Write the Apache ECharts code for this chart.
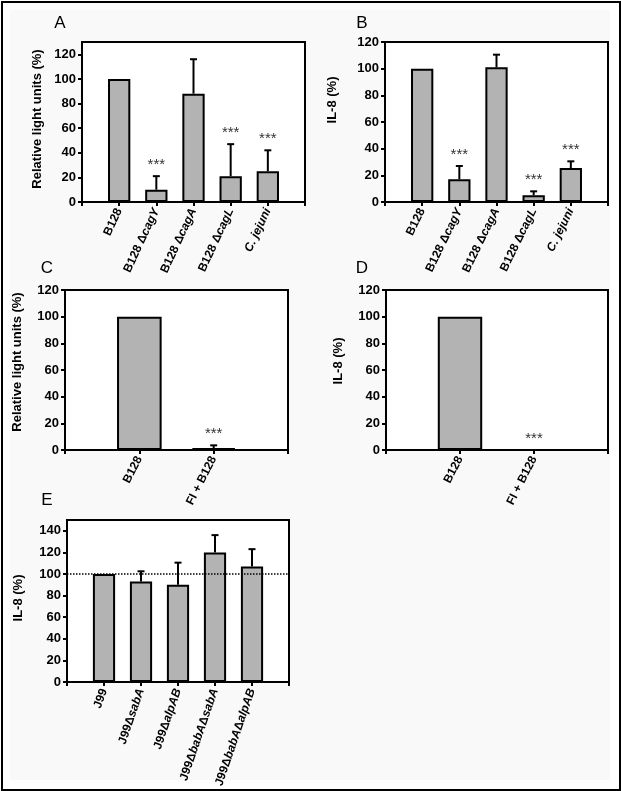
<!DOCTYPE html>
<html><head><meta charset="utf-8">
<script src="https://cdn.jsdelivr.net/npm/echarts@6/dist/echarts.min.js"></script>
<style>html,body{margin:0;padding:0;background:#fff}#c{width:621px;height:791px}</style>
</head><body><div id="c"></div>
<script>
// ---- data ----
const catsA = ['B128', 'B128 ΔcagY', 'B128 ΔcagA', 'B128 ΔcagL', 'C. jejuni'];
const valsA = [100, 10, 88, 21, 25];
const errsA = [0, 11, 28, 26, 17];
const sigA  = ['', '***', '', '***', '***'];
const ticksA = [0, 20, 40, 60, 80, 100, 120];

const catsB = ['B128', 'B128 ΔcagY', 'B128 ΔcagA', 'B128 ΔcagL', 'C. jejuni'];
const valsB = [100, 17, 101, 5, 25.5];
const errsB = [0, 10, 9.5, 3, 5];
const sigB  = ['', '***', '', '***', '***'];
const ticksB = [0, 20, 40, 60, 80, 100, 120];

const catsC = ['B128', 'FI + B128'];
const valsC = [100, 1.5];
const errsC = [0, 2];
const sigC  = ['', '***'];
const ticksC = [0, 20, 40, 60, 80, 100, 120];

const catsD = ['B128', 'FI + B128'];
const valsD = [100, 0];
const errsD = [0, 0];
const sigD  = ['', '***'];
const ticksD = [0, 20, 40, 60, 80, 100, 120];

const catsE = ['J99', 'J99ΔsabA', 'J99ΔalpAB', 'J99ΔbabAΔsabA', 'J99ΔbabAΔalpAB'];
const valsE = [100, 93, 90, 120, 107];
const errsE = [0, 9.5, 20.5, 16, 16];
const sigE  = ['', '', '', '', ''];
const ticksE = [0, 20, 40, 60, 80, 100, 120, 140];
const refLineE = 100;

const yNameRLU = 'Relative light units (%)';
const yNameIL8 = 'IL-8 (%)';

// ---- helpers ----
const FONT = 'Liberation Sans, Arial, Helvetica, sans-serif';
const ITALIC_RE = /(cag[A-Z]|sabA|alpAB|babA|C\. jejuni)/g;
function richLabel(s) {
  if (!s) return '';
  const parts = s.split(ITALIC_RE).filter(p => p !== '');
  return parts.map(p => (p.match(ITALIC_RE) ? '{i|' + p + '}' : '{n|' + p + '}')).join('');
}

const panels = [
  {cats: catsA, vals: valsA, errs: errsA, sig: sigA, ticks: ticksA, max: 130, name: yNameRLU, nameGap: 38, namePad: 6,
   grid: {left: 82, top: 42, width: 223, height: 160}, rot: 65},
  {cats: catsB, vals: valsB, errs: errsB, sig: sigB, ticks: ticksB, max: 120, name: yNameIL8, nameGap: 46, namePad: 44,
   grid: {left: 385, top: 42, width: 223, height: 160}, rot: 64},
  {cats: catsC, vals: valsC, errs: errsC, sig: sigC, ticks: ticksC, max: 120, name: yNameRLU, nameGap: 41, namePad: 16,
   grid: {left: 65, top: 290, width: 223, height: 160}, rot: 63},
  {cats: catsD, vals: valsD, errs: errsD, sig: sigD, ticks: ticksD, max: 120, name: yNameIL8, nameGap: 41, namePad: 18,
   grid: {left: 386, top: 290, width: 222, height: 160}, rot: 63},
  {cats: catsE, vals: valsE, errs: errsE, sig: sigE, ticks: ticksE, max: 150, name: yNameIL8, nameGap: 42, namePad: 6,
   grid: {left: 67, top: 520, width: 222, height: 162}, rot: 71, ref: refLineE}
];

const grids = [], xAxes = [], yAxes = [], series = [];
panels.forEach((p, gi) => {
  grids.push(Object.assign({show: true, borderColor: '#000', borderWidth: 2, backgroundColor: '#fff', containLabel: false}, p.grid));
  xAxes.push({
    type: 'category', gridIndex: gi, boundaryGap: false,
    data: [''].concat(p.cats, ['']),
    axisLine: {show: true, lineStyle: {color: '#000', width: 2}},
    axisTick: {show: true, length: 4, lineStyle: {color: '#000', width: 2}, interval: 0},
    axisLabel: {
      interval: 0, rotate: p.rot, margin: 7, color: '#000',
      formatter: v => richLabel(v),
      rich: {
        n: {fontFamily: FONT, fontSize: 12, fontWeight: 'bold', color: '#000'},
        i: {fontFamily: FONT, fontSize: 12, fontWeight: 'bold', fontStyle: 'italic', color: '#000'}
      }
    },
    splitLine: {show: false}
  });
  yAxes.push({
    type: 'value', gridIndex: gi, min: 0, max: p.max, interval: 20,
    name: p.name, nameLocation: 'middle', nameGap: p.nameGap, nameRotate: 90,
    nameTextStyle: {fontFamily: FONT, fontSize: 13, fontWeight: 'bold', color: '#000', padding: [0, 0, 0, p.namePad]},
    axisLine: {show: true, lineStyle: {color: '#000', width: 2}},
    axisTick: {show: true, length: 4, lineStyle: {color: '#000', width: 2}, customValues: p.ticks},
    axisLabel: {fontFamily: FONT, fontSize: 13, fontWeight: 'bold', color: '#000', margin: 6, customValues: p.ticks},
    splitLine: {show: false}
  });
  const bar = {
    type: 'bar', xAxisIndex: gi, yAxisIndex: gi, barWidth: '60%', silent: true,
    data: ['-'].concat(p.vals, ['-']),
    itemStyle: {color: '#b3b3b3', borderColor: '#000', borderWidth: 2},
    z: 2
  };
  if (p.ref !== undefined) {
    bar.markLine = {silent: true, symbol: 'none', label: {show: false},
      lineStyle: {type: 'dotted', color: '#000', width: 1.5}, data: [{yAxis: p.ref}]};
  }
  series.push(bar);
  const sig = p.sig;
  series.push({
    type: 'custom', xAxisIndex: gi, yAxisIndex: gi, silent: true, z: 3,
    data: p.vals.map((v, i) => [i + 1, v, p.errs[i]]),
    renderItem: function (params, api) {
      const x = api.value(0), v = api.value(1), e = api.value(2);
      const s = sig[params.dataIndex];
      const p0 = api.coord([x, v]);
      const p1 = api.coord([x, v + e]);
      const ch = [];
      if (e > 0) {
        ch.push({type: 'line', shape: {x1: p0[0], y1: p0[1], x2: p1[0], y2: p1[1]}, style: {stroke: '#000', lineWidth: 2}});
        ch.push({type: 'line', shape: {x1: p1[0] - 3.5, y1: p1[1], x2: p1[0] + 3.5, y2: p1[1]}, style: {stroke: '#000', lineWidth: 2}});
      }
      if (s) {
        ch.push({type: 'text', x: p1[0], y: p1[1] - 11,
          style: {text: s, fill: '#333', font: '15px ' + FONT, align: 'center', verticalAlign: 'middle'}});
      }
      return {type: 'group', children: ch};
    }
  });
});

const letters = [['A', 60, 23], ['B', 362, 23], ['C', 47, 268], ['D', 362, 268], ['E', 47, 500]];
const graphic = [
  {type: 'rect', left: 1, top: 1, shape: {width: 618, height: 788}, style: {fill: '#fff', stroke: '#000', lineWidth: 2}, z: -10, silent: true},
  {type: 'rect', left: 10, top: 10, shape: {width: 600, height: 770}, style: {fill: '#f9f9f9'}, z: -9, silent: true}
].concat(letters.map(l => ({type: 'text', x: l[1], y: l[2], z: 10, silent: true,
  style: {text: l[0], font: '17px ' + FONT, fill: '#000', align: 'center', verticalAlign: 'middle'}})));

const chart = echarts.init(document.getElementById('c'), null, {renderer: 'canvas', width: 621, height: 791});
chart.setOption({animation: false, backgroundColor: '#fff', grid: grids, xAxis: xAxes, yAxis: yAxes, series: series, graphic: graphic});
</script></body></html>
